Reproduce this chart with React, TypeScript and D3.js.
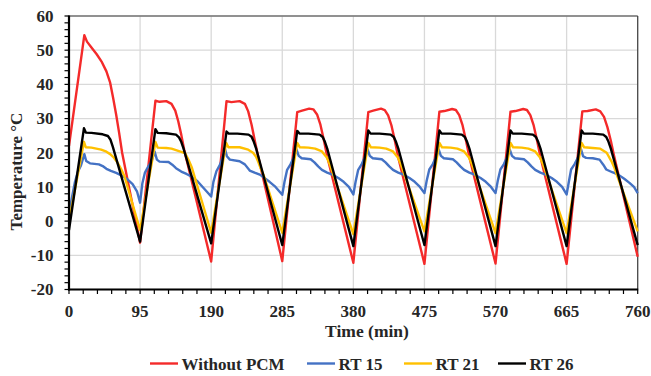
import * as d3 from "d3";

// [time (min), temperature °C]
const withoutPcm: [number, number][] = [
  [0, 22], [20.5, 54.4], [24, 52.5], [30, 50.8], [37, 48.8], [44, 46.5], [50, 43.8], [55, 40.5], [59, 36], [63, 31.2], [67, 25.8], [71, 20], [95, -6.3],
  [115.5, 35.2], [121, 34.9], [130, 35.1], [137, 34.3], [142, 32.3], [146, 29.2], [150, 25.3], [154, 20.8], [190, -11.8],
  [210.5, 35.1], [217, 34.8], [228, 35.1], [235, 34.3], [239.5, 32.1], [244, 28.2], [248.5, 23.3], [252.5, 19.2], [285, -11.7],
  [305, 31.9], [311.5, 32.3], [321, 32.9], [326.5, 32.7], [331.5, 31.2], [336, 28.2], [340.5, 23.8], [345, 19], [380, -12.2],
  [400, 31.9], [406.5, 32.3], [417, 32.9], [422, 32.5], [426.5, 30.9], [431, 27.9], [435.5, 23.5], [440, 18.6], [475, -12.5],
  [495, 32], [501.5, 32.2], [512, 32.8], [517, 32.5], [521.5, 31], [526, 28], [530.5, 23.6], [535, 18.8], [570, -12.4],
  [590, 32], [596.5, 32.2], [607, 32.8], [612, 32.5], [616.5, 31], [621, 28], [625.5, 23.6], [630, 18.8], [665, -12.5],
  [686, 32.1], [693, 32.2], [704, 32.7], [710, 32.1], [715, 30.5], [719.5, 27.5], [724, 23.6], [728, 19.5], [760, -10.4],
];

const rt15: [number, number][] = [
  [0, 2], [4, 7], [8, 11.5], [12, 14.5], [16, 16.3], [20.5, 19.6], [23, 17.6], [28, 16.9], [40, 16.6], [45, 16.1], [50, 15.3], [56, 14.7], [63, 14.1], [70, 13.4], [77, 12.4], [85, 10.8], [91, 8.6], [95, 5.4],
  [98, 11], [101.5, 14.2], [106, 16], [110, 17.3], [114.5, 20.3], [117.5, 18], [121, 17.4], [133, 17.3], [138, 16.5], [143, 15.5], [150, 14.5], [157, 13.8], [164, 13], [172, 11.6], [181, 9.4], [190, 7.2],
  [193, 11.5], [197, 14.6], [202, 16.6], [205, 18.5], [208.5, 21], [211, 19], [215, 18], [228, 17.5], [235, 16.6], [241.5, 14.8], [248, 14.2], [255, 13.6], [262, 12.5], [268, 11.5], [276, 10], [285, 7.7],
  [288, 11.5], [291.5, 15], [296, 16.6], [300, 18.5], [304, 21], [307, 19.1], [311, 18.4], [323, 18.1], [328, 17.2], [333, 16], [338, 15], [345, 14.2], [352, 13.6], [360, 12.6], [367, 11.5], [374, 10], [380, 7.8],
  [383, 11.5], [386.5, 15], [391, 16.6], [395, 18.5], [399, 21], [402, 19.1], [406, 18.4], [418, 18.1], [423, 17.2], [428, 16], [433, 15], [440, 14.2], [447, 13.6], [455, 12.6], [462, 11.5], [469, 10], [475, 8.2],
  [478, 11.8], [481.5, 15.1], [486, 16.6], [490, 18.5], [494, 21], [497, 19.1], [501, 18.4], [513, 18.1], [518, 17.2], [523, 16], [528, 15], [535, 14.2], [542, 13.6], [550, 12.6], [557, 11.5], [564, 10], [570, 8.2],
  [573, 11.8], [576.5, 15.1], [581, 16.6], [585, 18.5], [589, 21], [592, 19.1], [596, 18.4], [608, 18.1], [613, 17.2], [618, 16], [623, 15], [630, 14.2], [637, 13.6], [645, 12.6], [652, 11.5], [659, 10], [665, 7.8],
  [668, 11.5], [671, 15.1], [675.5, 16.6], [680, 18.5], [684, 21.2], [687, 19], [691, 18.5], [700, 18.4], [709, 18], [714, 16.5], [718, 15.1], [726, 14.3], [734, 13.6], [742, 12.4], [749, 11.2], [755, 10], [760, 8.2],
];

const rt21: [number, number][] = [
  [0, 0], [20, 23.2], [22.5, 21.6], [30, 21.5], [43, 20.9], [50, 20.3], [55, 19.6], [59, 18.8], [64, 17.4], [69, 15.5], [74, 13.2], [95, -2.6],
  [115.5, 23.2], [118.5, 21.5], [130, 21.4], [137, 21.2], [145, 20.6], [155, 19.9], [160, 17.8], [164, 15.8], [190, -3.4],
  [210, 22.9], [213, 21.6], [228, 21.6], [239.5, 20.9], [246, 20], [250, 18.8], [253, 17.3], [256, 15.5], [260, 13.5], [285, -3.4],
  [305, 22.9], [308.5, 21.6], [320, 21.5], [329, 21.2], [338, 20.4], [344.5, 18.6], [348.5, 16.6], [352, 14.4], [380, -3.8],
  [400, 22.9], [403.5, 21.6], [415, 21.5], [424, 21.2], [433, 20.4], [439.5, 18.6], [443.5, 16.6], [447, 14.4], [475, -3],
  [495, 22.9], [498.5, 21.6], [510, 21.5], [519, 21.2], [528, 20.4], [534.5, 18.6], [538.5, 16.6], [542, 14.4], [570, -3.5],
  [590, 22.9], [593.5, 21.6], [605, 21.5], [614, 21.2], [623, 20.4], [629.5, 18.6], [633.5, 16.6], [637, 14.4], [665, -3.5],
  [685, 22.9], [688.5, 21.6], [700, 21.4], [710, 21.2], [718.5, 20], [725, 17.5], [729, 15.5], [732, 13.6], [760, -3],
];

const rt26: [number, number][] = [
  [0, -2.6], [20, 27.2], [22.5, 25.9], [30, 25.8], [45, 25.4], [52, 24.9], [55.5, 23.8], [58.5, 21.8], [95, -6],
  [115.5, 26.9], [118.5, 25.8], [130, 25.7], [143, 25.3], [147, 24.5], [150, 23.2], [153, 21.3], [190, -6.5],
  [210.5, 26.2], [213.5, 25.6], [225, 25.6], [240, 25.3], [244, 24.7], [247, 23.2], [250, 21.3], [285, -7],
  [305, 26.4], [308, 25.6], [320, 25.6], [335, 25.3], [339, 24.6], [342, 23.2], [345, 21.3], [380, -7.3],
  [400, 26.5], [403, 25.6], [415, 25.6], [430, 25.3], [434, 24.6], [437, 23.2], [440, 21.3], [475, -7],
  [495, 26.5], [498, 25.6], [510, 25.6], [525, 25.3], [529, 24.6], [532, 23.2], [535, 21.3], [570, -7.3],
  [590, 26.5], [593, 25.6], [605, 25.6], [620, 25.3], [624, 24.6], [627, 23.2], [630, 21.3], [665, -7.3],
  [685, 26.5], [688, 25.6], [700, 25.6], [714, 25.3], [718, 24.6], [721, 23.2], [724, 21.3], [760, -7],
];

const xTickValues = [0, 95, 190, 285, 380, 475, 570, 665, 760];
const yTickValues = [-20, -10, 0, 10, 20, 30, 40, 50, 60];

const series = [
  { name: "Without PCM", color: "#F42A2A", data: withoutPcm, legendX: 150 },
  { name: "RT 15", color: "#4472C4", data: rt15, legendX: 307 },
  { name: "RT 21", color: "#FFC000", data: rt21, legendX: 404 },
  { name: "RT 26", color: "#000000", data: rt26, legendX: 498 },
];

const WIDTH = 651;
const HEIGHT = 376;
const FONT = "'Liberation Serif', 'Times New Roman', serif";

export default function App() {
  const x = d3.scaleLinear().domain([0, 760]).range([69, 637.7]);
  const y = d3.scaleLinear().domain([-20, 60]).range([289.5, 16]);

  const line = d3
    .line<[number, number]>()
    .x((d) => x(d[0]))
    .y((d) => y(d[1]));

  const xMinor = d3.range(0, 761, 19);
  const yMinor = d3.range(-20, 61, 2);
  const textStyle = { fontFamily: FONT };

  return (
    <div style={{ position: "absolute", left: 0, top: 0 }}>
      <svg width={WIDTH} height={HEIGHT} style={{ display: "block", background: "#fff", fontFamily: FONT }}>
        {/* Grid */}
        {yTickValues.map((v) => (
          <line key={`gy${v}`} x1={x(0)} x2={x(760)} y1={y(v)} y2={y(v)} stroke="#D9D9D9" strokeWidth={1.3} />
        ))}
        {xTickValues.map((v) => (
          <line key={`gx${v}`} x1={x(v)} x2={x(v)} y1={y(-20)} y2={y(60)} stroke="#D9D9D9" strokeWidth={1.3} />
        ))}

        {/* Plot border */}
        <line x1={x(0)} x2={x(760)} y1={y(60)} y2={y(60)} stroke="#404040" strokeWidth={1.2} />
        <line x1={x(760)} x2={x(760)} y1={y(60)} y2={y(-20)} stroke="#404040" strokeWidth={1.2} />

        {/* Series */}
        {series.map((s) => (
          <path key={s.name} d={line(s.data) || ""} fill="none" stroke={s.color} strokeWidth={2.4} strokeLinejoin="round" />
        ))}

        {/* Axes */}
        <line x1={x(0)} x2={x(0)} y1={y(60) - 0.5} y2={y(-20) + 1} stroke="#000" strokeWidth={2.2} />
        <line x1={x(0) - 1} x2={x(760) + 0.5} y1={y(-20)} y2={y(-20)} stroke="#000" strokeWidth={2.2} />

        {yMinor.map((v) => (
          <line key={`my${v}`} x1={x(0) - 4.5} x2={x(0)} y1={y(v)} y2={y(v)} stroke="#000" strokeWidth={1.2} />
        ))}
        {xMinor.map((v) => (
          <line key={`mx${v}`} x1={x(v)} x2={x(v)} y1={y(-20)} y2={y(-20) + 4.5} stroke="#000" strokeWidth={1.2} />
        ))}

        {/* Tick labels */}
        {yTickValues.map((v) => (
          <text key={`ty${v}`} style={textStyle} x={53.5} y={y(v) + 5.8} textAnchor="end" fontSize={17} fontWeight="bold" fill="#262626">
            {v}
          </text>
        ))}
        {xTickValues.map((v) => (
          <text key={`tx${v}`} style={textStyle} x={x(v)} y={316.5} textAnchor="middle" fontSize={17} fontWeight="bold" fill="#262626">
            {v}
          </text>
        ))}

        {/* Axis titles */}
        <text style={textStyle} x={367} y={337} textAnchor="middle" fontSize={17.5} fontWeight="bold" fill="#262626">
          Time (min)
        </text>
        <text
          style={textStyle}
          transform={`translate(22, ${171.5}) rotate(-90)`}
          textAnchor="middle"
          fontSize={17}
          fontWeight="bold"
          fill="#262626"
        >
          Temperature °C
        </text>

        {/* Legend */}
        {series.map((s) => (
          <g key={`lg${s.name}`}>
            <line x1={s.legendX} x2={s.legendX + 28} y1={363.5} y2={363.5} stroke={s.color} strokeWidth={2.4} />
            <text style={textStyle} x={s.legendX + 31.5} y={369.5} fontSize={17} fontWeight="bold" fill="#262626">
              {s.name}
            </text>
          </g>
        ))}
      </svg>
    </div>
  );
}
